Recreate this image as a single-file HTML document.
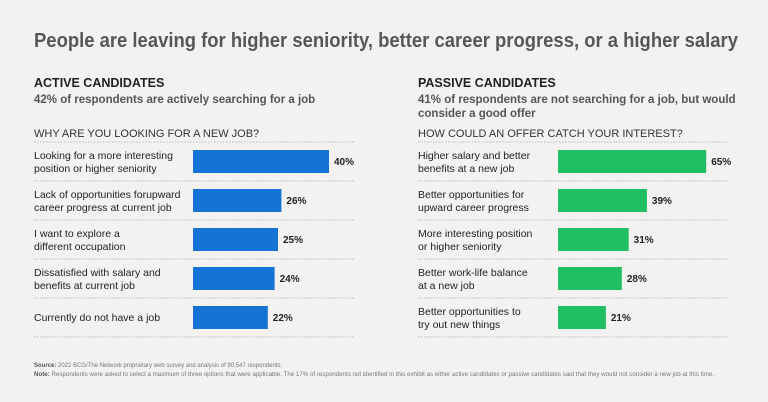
<!DOCTYPE html>
<html><head><meta charset="utf-8"><style>
body{margin:0;background:#f3f2f0;}
svg{display:block;font-family:"Liberation Sans",sans-serif;}
</style></head><body>
<svg id="c" width="768" height="402" viewBox="0 0 768 402">
<rect width="768" height="402" fill="#f3f2f0"/>
<text x="34" y="47" font-size="20" font-weight="bold" fill="#575757" textLength="704" lengthAdjust="spacingAndGlyphs">People are leaving for higher seniority, better career progress, or a higher salary</text>
<g>
<text x="34" y="87" font-size="12.5" font-weight="bold" fill="#222">ACTIVE CANDIDATES</text>
<text x="34" y="103" font-size="11.5" font-weight="bold" fill="#555">42% of respondents are actively searching for a job</text>
<text x="34" y="137" font-size="11" fill="#333">WHY ARE YOU LOOKING FOR A NEW JOB?</text>
</g>
<g>
<text x="418" y="87" font-size="12.5" font-weight="bold" fill="#222">PASSIVE CANDIDATES</text>
<text x="418" y="103" font-size="11.5" font-weight="bold" fill="#555">41% of respondents are not searching for a job, but would</text>
<text x="418" y="117" font-size="11.5" font-weight="bold" fill="#555">consider a good offer</text>
<text x="418" y="137" font-size="11" fill="#333">HOW COULD AN OFFER CATCH YOUR INTEREST?</text>
</g>
<g id="left"></g>
<g id="right"></g>
<g font-size="6" fill="#777">
<text x="34" y="367"><tspan font-weight="bold" fill="#555">Source:</tspan> 2022 BCG/The Network proprietary web survey and analysis of 90,547 respondents.</text>
<text x="34" y="376" textLength="680" lengthAdjust="spacingAndGlyphs"><tspan font-weight="bold" fill="#555">Note:</tspan> Respondents were asked to select a maximum of three options that were applicable. The 17% of respondents not identified in this exhibit as either active candidates or passive candidates said that they would not consider a new job at this time.</text>
</g>
</svg>
<script>
const activeLabels=[["Looking for a more interesting","position or higher seniority"],["Lack of opportunities forupward","career progress at current job"],["I want to explore a","different occupation"],["Dissatisfied with salary and","benefits at current job"],["Currently do not have a job"]];
const activeValues=[40,26,25,24,22];
const passiveLabels=[["Higher salary and better","benefits at a new job"],["Better opportunities for","upward career progress"],["More interesting position","or higher seniority"],["Better work-life balance","at a new job"],["Better opportunities to","try out new things"]];
const passiveValues=[65,39,31,28,21];
const NS="http://www.w3.org/2000/svg";
function mk(p,t,a){const e=document.createElementNS(NS,t);for(const k in a)e.setAttribute(k,a[k]);p.appendChild(e);return e;}
function draw(gid,labels,values,x0,barX,scale,lineEnd,color,pfx){
  const g=document.getElementById(gid);
  const top=142,pitch=39;
  for(let i=0;i<=values.length;i++){
    const l=mk(g,"line",{x1:x0,x2:lineEnd,y1:top+i*pitch,y2:top+i*pitch,stroke:"#bbb","stroke-width":1,"stroke-dasharray":"1.5,1.5"});
    
    
  }
  values.forEach((v,i)=>{
    const y=top+i*pitch;
    const lab=labels[i];
    const t=mk(g,"text",{x:x0,"font-size":10.5,fill:"#222"});
    
    
    lab.forEach((s,j)=>{const ts=mk(t,"tspan",{x:x0,y:(lab.length===1?y+23:y+17+j*13)});ts.textContent=s;});
    const w=v*scale;
    const r=mk(g,"rect",{x:barX,y:y+8,width:w,height:23,fill:color});
    
    
    const vt=mk(g,"text",{x:barX+w+5,y:y+23,"font-size":10,"font-weight":"bold",fill:"#222"});
    vt.textContent=v+"%";
    
    
  });
}
draw("left",activeLabels,activeValues,34,193,3.4,354,"#1673d6","active");
draw("right",passiveLabels,passiveValues,418,558,2.28,730,"#21bf63","passive");
</script>
</body></html>
